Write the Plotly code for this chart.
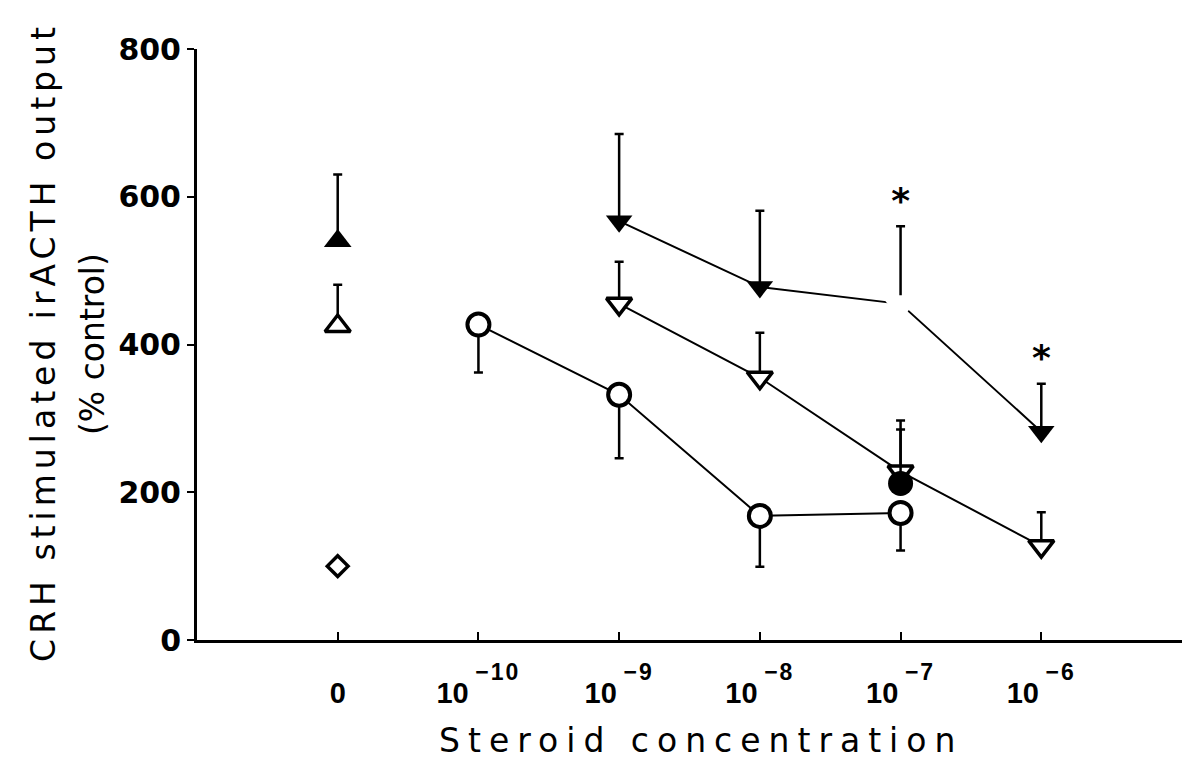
import plotly.graph_objects as go

# Category positions on the x axis (0 = no steroid, then molar concentrations)
SUP = ('<sup><span style="font-size:23px;letter-spacing:2px;baseline-shift:11px">'
       '\u2009{}</span></sup>')
x_labels = ["0"] + ["10" + SUP.format(e) for e in ["−10", "−9", "−8", "−7", "−6"]]
x_pos = [0, 1, 2, 3, 4, 5]

# Control (no CRH)
ctrl_x = [0]
ctrl_y = [100]

# CRH alone, two preparations at zero steroid
crh_fill_x = [0]
crh_fill_y = [540]
crh_fill_err = [90]

crh_open_x = [0]
crh_open_y = [425]
crh_open_err = [56]

# Open circles: steroid series A (SEM plotted downward)
circ_x = [1, 2, 3, 4]
circ_y = [427, 332, 168, 172]
circ_err = [65, 86, 69, 51]

# Open inverted triangles: steroid series B
otri_x = [2, 3, 4, 5]
otri_y = [455, 355, 228, 127]
otri_err = [57, 61, 69, 46]

# Filled inverted triangles: steroid series C
ftri_x = [2, 3, 4, 5]
ftri_y = [567, 478, 455, 282]
ftri_err = [118, 103, 105, 65]
ftri_shown = [True, True, False, True]

# Filled circle at 10^-7
fcirc_x = [4]
fcirc_y = [212]
fcirc_err = [73]

# Significance marks
sig_x = [4, 5]
sig_y = [590, 377]

FONT = "DejaVu Sans"
BLACK = "black"

fig = go.Figure()


def err(vals, minus=False):
    d = dict(type="data", symmetric=False, color=BLACK, thickness=2.5, width=4.5)
    if minus:
        d.update(array=[0] * len(vals), arrayminus=vals)
    else:
        d.update(array=vals, arrayminus=[0] * len(vals))
    return d


fig.add_trace(go.Scatter(
    x=circ_x, y=circ_y, mode="lines+markers",
    line=dict(color=BLACK, width=2),
    marker=dict(symbol="circle", size=22, color="white", line=dict(color=BLACK, width=4)),
    error_y=err(circ_err, minus=True),
))

fig.add_trace(go.Scatter(
    x=otri_x, y=otri_y, mode="lines+markers",
    line=dict(color=BLACK, width=2),
    marker=dict(symbol="triangle-down", size=22, color="white", line=dict(color=BLACK, width=3.5)),
    error_y=err(otri_err),
))

fig.add_trace(go.Scatter(
    x=ftri_x, y=ftri_y, mode="lines+markers",
    line=dict(color=BLACK, width=2),
    marker=dict(symbol="triangle-down", opacity=1,
                size=[23 if s else 34 for s in ftri_shown],
                color=[BLACK if s else "white" for s in ftri_shown], line=dict(width=0)),
    error_y=err(ftri_err),
))

fig.add_trace(go.Scatter(
    x=fcirc_x, y=fcirc_y, mode="markers",
    marker=dict(symbol="circle", size=25, color=BLACK, line=dict(width=0)),
    error_y=err(fcirc_err),
))

fig.add_trace(go.Scatter(
    x=crh_fill_x, y=crh_fill_y, mode="markers",
    marker=dict(symbol="triangle-up", size=24, color=BLACK, line=dict(width=0)),
    error_y=err(crh_fill_err),
))

fig.add_trace(go.Scatter(
    x=crh_open_x, y=crh_open_y, mode="markers",
    marker=dict(symbol="triangle-up", size=22, color="white", line=dict(color=BLACK, width=3.5)),
    error_y=err(crh_open_err),
))

fig.add_trace(go.Scatter(
    x=ctrl_x, y=ctrl_y, mode="markers",
    marker=dict(symbol="diamond", size=16, color="white", line=dict(color=BLACK, width=3.5)),
))

fig.add_trace(go.Scatter(
    x=sig_x, y=sig_y, mode="text", text=["*"] * len(sig_x),
    textfont=dict(family=FONT, size=36, color=BLACK, weight="bold"),
    textposition="middle center",
))

fig.update_layout(
    width=1186, height=772,
    margin=dict(l=197, r=4, t=49, b=132),
    paper_bgcolor="white", plot_bgcolor="white",
    showlegend=False,
    font=dict(family=FONT, color=BLACK),
)

fig.update_xaxes(
    range=[-1, 6],
    tickvals=x_pos, ticktext=x_labels,
    ticks="inside", ticklen=8, tickwidth=2, tickcolor=BLACK,
    minor=dict(tickvals=[6], ticks="inside", ticklen=8, tickwidth=2, tickcolor=BLACK),
    showline=True, linewidth=3, linecolor=BLACK,
    showgrid=False, zeroline=False,
    tickfont=dict(family="Liberation Sans", size=29, color=BLACK, weight="bold"),
    ticklabelstandoff=25,
)

fig.update_yaxes(
    range=[0, 800],
    tickvals=[0, 200, 400, 600, 800],
    ticks="outside", ticklen=7, tickwidth=2, tickcolor=BLACK,
    showline=True, linewidth=3, linecolor=BLACK,
    showgrid=False, zeroline=False,
    tickfont=dict(family=FONT, size=30, color=BLACK, weight="bold"),
    ticklabelstandoff=0,
)

# Axis titles
fig.add_annotation(
    text='<span style="letter-spacing:5px">CRH stimulated irACTH output</span>',
    xref="paper", yref="paper", x=-0.156, y=0.505, xanchor="center", yanchor="middle",
    textangle=-90, showarrow=False, font=dict(family=FONT, size=33, color=BLACK),
)
fig.add_annotation(
    text="(% control)",
    xref="paper", yref="paper", x=-0.106, y=0.50, xanchor="center", yanchor="middle",
    textangle=-90, showarrow=False, font=dict(family=FONT, size=33, color=BLACK),
)
fig.add_annotation(
    text='<span style="letter-spacing:8px">Steroid concentration</span>',
    xref="paper", yref="paper", x=0.512, y=-0.17, xanchor="center", yanchor="middle",
    showarrow=False, font=dict(family=FONT, size=33, color=BLACK),
)

fig.write_html("out.html")
